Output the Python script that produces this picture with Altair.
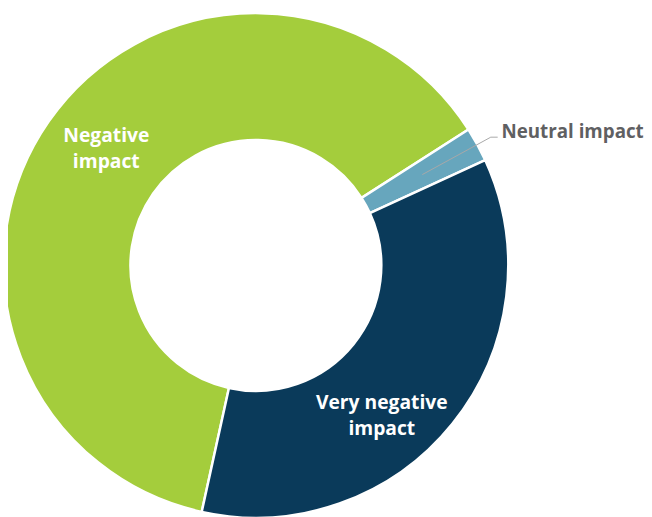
import math
import altair as alt
import pandas as pd

# Data
categories = ["Negative impact", "Neutral impact", "Very negative impact"]
label_text = ["Negative\nimpact", "Neutral impact", "Very negative\nimpact"]
values = [62.5, 2.2, 35.3]
colors = ["#A4CD3C", "#67A6BD", "#0A3A5A"]

df = pd.DataFrame({
    "category": categories,
    "label": label_text,
    "value": values,
    "order": list(range(len(categories))),
})

total = sum(values)
start = math.radians(192.4)
theta_scale = alt.Scale(domain=[0, total], range=[start, start + 2 * math.pi])

CX, CY = 251, 257.5
R_OUT, R_IN = 255.5, 127
R_MID = 192

base = alt.Chart(df).encode(
    theta=alt.Theta("value:Q", stack=True, scale=theta_scale),
    order=alt.Order("order:Q"),
    x=alt.value(CX),
    y=alt.value(CY),
)

arcs = base.mark_arc(radius=R_OUT, radius2=R_IN, stroke="white", strokeWidth=2.5).encode(
    color=alt.Color("category:N", scale=alt.Scale(domain=categories, range=colors), legend=None)
)

font = "Open Sans"
FS = 19.5


def only(cat):
    return alt.condition(alt.datum.category == cat, alt.Text("label:N"), alt.value(""))


neg_label = base.mark_text(
    radius=R_MID, dx=6, dy=-21, font=font, fontSize=FS, fontWeight="bold",
    color="white", lineBreak="\n", lineHeight=26, align="center", baseline="middle"
).encode(text=only("Negative impact"))

vneg_label = base.mark_text(
    radius=R_MID, dx=-22, dy=19, font=font, fontSize=FS, fontWeight="bold",
    color="white", lineBreak="\n", lineHeight=26, align="center", baseline="middle"
).encode(text=only("Very negative impact"))

neu_label = base.mark_text(
    radius=281, dx=2, font=font, fontSize=19, fontWeight="bold",
    color="#5F6062", align="left", baseline="middle"
).encode(text=only("Neutral impact"))

# Leader line for the neutral slice, derived from the data
idx = categories.index("Neutral impact")
before = sum(values[:idx])
mid = start + 2 * math.pi * (before + values[idx] / 2) / total
p0 = (CX + R_MID * math.sin(mid), CY - R_MID * math.cos(mid))
p1 = (CX + 271 * math.sin(mid), CY - 271 * math.cos(mid))
p2 = (p1[0] + 7, p1[1])
leader_df = pd.DataFrame({"px": [p0[0], p1[0], p2[0]], "py": [p0[1], p1[1], p2[1]], "i": [0, 1, 2]})

leader = alt.Chart(leader_df).mark_line(color="#A8A8A8", strokeWidth=1).encode(
    x=alt.X("px:Q", scale=None, axis=None),
    y=alt.Y("py:Q", scale=None, axis=None),
    order="i:Q",
)

chart = alt.layer(arcs, leader, neg_label, vneg_label, neu_label).properties(
    width=644, height=509, autosize="none", padding=0
).configure_view(stroke=None)

chart.save("out.html", embed_options={"renderer": "svg", "actions": False})
